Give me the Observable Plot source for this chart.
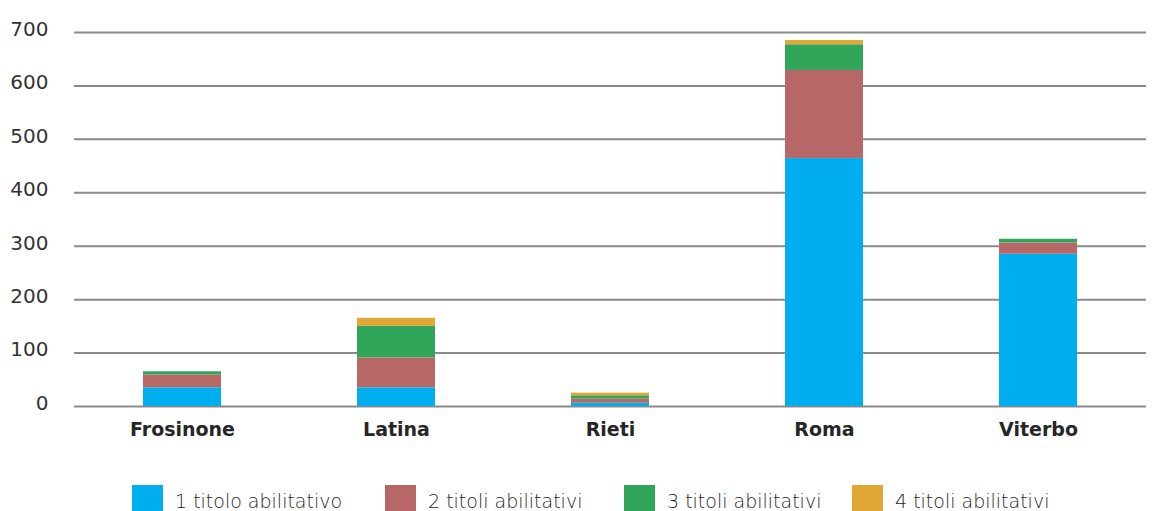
<!DOCTYPE html>
<html>
<head>
<meta charset="utf-8">
<script src="https://cdn.jsdelivr.net/npm/d3@7"></script>
<script src="https://cdn.jsdelivr.net/npm/@observablehq/plot@0.6"></script>
<style>
  body { margin: 0; background: #fff; font-family: "DejaVu Sans", sans-serif; overflow: hidden; }
  #legend { display: flex; margin-top: 15px; margin-left: 132px; }
  .item { display: flex; align-items: center; font-size: 19px; color: #1e1e1e; font-weight: 200; }
  .sw { width: 31px; height: 32px; margin-right: 12px; }
</style>
</head>
<body>
<div id="chart"></div>
<div id="legend"></div>
<script>
const provinces = ["Frosinone", "Latina", "Rieti", "Roma", "Viterbo"];
const seriesNames = ["1 titolo abilitativo", "2 titoli abilitativi", "3 titoli abilitativi", "4 titoli abilitativi"];
const seriesColors = ["#00AEEF", "#B86767", "#31A55A", "#E1A735"];
const s1 = [35, 35, 6, 464, 285];
const s2 = [24, 56, 8, 165, 21];
const s3 = [6, 59, 6, 48, 7];
const s4 = [0, 15, 5, 8, 0];
const yTicks = [0, 100, 200, 300, 400, 500, 600, 700];

const seriesValues = [s1, s2, s3, s4];
const data = [];
seriesNames.forEach((name, si) => {
  provinces.forEach((p, pi) => {
    data.push({province: p, series: name, value: seriesValues[si][pi]});
  });
});

const chart = Plot.plot({
  width: 1157,
  height: 470,
  marginLeft: 74,
  marginRight: 11,
  marginTop: 32,
  marginBottom: 64,
  x: {domain: provinces, paddingInner: 0.636, paddingOuter: 0.318, label: null},
  y: {domain: [0, 700], label: null},
  color: {domain: seriesNames, range: seriesColors},
  style: {fontFamily: "DejaVu Sans, sans-serif"},
  marks: [
    Plot.ruleY(yTicks, {stroke: "#8a8a8a", strokeWidth: 2}),
    Plot.barY(data, {x: "province", y: "value", fill: "series", order: seriesNames}),
    Plot.axisY(yTicks, {tickSize: 0, tickPadding: 26, fontSize: 20, fill: "#333333", dy: -3, label: null}),
    Plot.axisX({tickSize: 0, tickPadding: 16, fontSize: 19, fontWeight: "bold", fill: "#262626", label: null})
  ]
});
document.getElementById("chart").appendChild(chart);

const legend = document.getElementById("legend");
const itemWidths = [253, 239, 228, null];
seriesNames.forEach((name, i) => {
  const it = document.createElement("div");
  it.className = "item";
  if (itemWidths[i]) it.style.width = itemWidths[i] + "px";
  const sw = document.createElement("div");
  sw.className = "sw";
  sw.style.background = seriesColors[i];
  const tx = document.createElement("span");
  tx.textContent = name;
  it.appendChild(sw);
  it.appendChild(tx);
  legend.appendChild(it);
});
</script>
</body>
</html>
